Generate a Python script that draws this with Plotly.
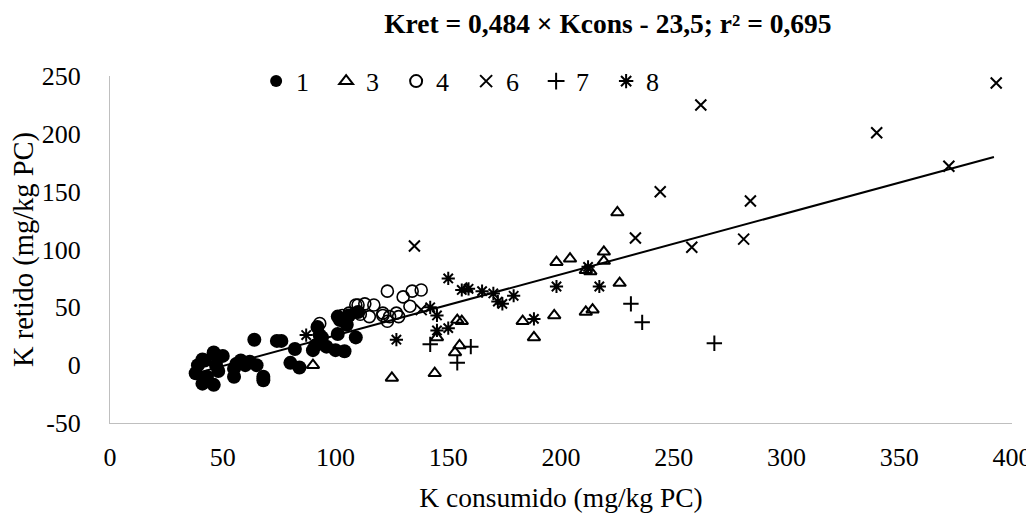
import plotly.graph_objects as go

# ---- data ----
s1_x = [39, 38, 41, 46, 47, 41, 46, 43, 56, 55, 60, 64, 74, 76, 46, 42, 58, 55, 65, 68, 68,
        82, 80, 84, 90, 92, 93, 92, 96, 100, 104, 101, 102, 101, 109, 105, 110, 106, 94, 91, 50, 62, 48]
s1_y = [0, -7, 5, 10, 0, -16, -17, -10, 1, -10, 0, 22, 21, 21, 11, 4, 4, -3, 0, -10, -13,
        14, 2, -2, 13, 18, 26, 33, 16, 13, 12, 27, 39, 42, 24, 35, 46, 43, 24, 17, 8, 3, -5]

s3_x = [225, 198, 204, 219, 219, 211, 213, 226, 211, 214, 197, 183, 188, 154, 156, 145, 155, 153, 144, 125, 90, 158]
s3_y = [132, 89, 92, 98, 90, 82, 81, 71, 46, 48, 43, 38, 24, 39, 38, 24, 17, 11, -7, -11, 0, 66]

s4_x = [123, 130, 134, 138, 133, 121, 123, 128, 110, 113, 117, 121, 124, 127, 103, 106, 93, 111, 115, 109]
s4_y = [64, 59, 64, 65, 51, 43, 38, 42, 52, 53, 52, 45, 42, 45, 43, 45, 36, 44, 42, 52]

s6_x = [393, 262, 340, 372, 244, 284, 233, 258, 281, 135, 138]
s6_y = [244, 225, 201, 172, 150, 142, 110, 102, 109, 103, 48]

s7_x = [231, 236, 268, 142, 160, 154]
s7_y = [53, 37, 19, 18, 16, 2]

s8_x = [150, 156, 159, 165, 170, 172, 174, 179, 198, 212, 217, 188, 142, 145, 145, 150, 127, 87]
s8_y = [75, 65, 66, 64, 62, 55, 53, 60, 68, 85, 68, 40, 50, 43, 30, 32, 22, 26]

trend_x = [40, 392]
trend_y = [-6, 180]

series_names = ["1", "3", "4", "6", "7", "8"]
x_ticks = [0, 50, 100, 150, 200, 250, 300, 350, 400]
y_ticks = [-50, 0, 50, 100, 150, 200, 250]
title_text = "Kret = 0,484 × Kcons - 23,5; r² = 0,695"
x_title = "K consumido (mg/kg PC)"
y_title = "K retido (mg/kg PC)"

FONT = "Liberation Serif, Times New Roman, serif"

# the page body adds an 8 px margin, so the figure is 8 px smaller than the window
W, H = 1026, 505

fig = go.Figure()

fig.add_trace(go.Scatter(x=trend_x, y=trend_y, mode="lines", showlegend=False,
                         line=dict(color="black", width=2), hoverinfo="skip"))

styles = [
    (s1_x, s1_y, "circle", 14, 0),
    (s3_x, s3_y, "triangle-up-open", 11, 2),
    (s4_x, s4_y, "circle-open", 12, 1.6),
    (s6_x, s6_y, "x-thin-open", 11, 2),
    (s7_x, s7_y, "cross-thin-open", 11, 2),
    (s8_x, s8_y, "asterisk-open", 11, 2),
]
for name, (xs, ys, sym, sz, lw) in zip(series_names, styles):
    fig.add_trace(go.Scatter(
        x=xs, y=ys, mode="markers", name=name,
        marker=dict(symbol=sym, size=sz, color="black",
                    line=dict(color="black", width=lw)),
    ))

fig.update_layout(
    width=W, height=H,
    paper_bgcolor="white", plot_bgcolor="white",
    margin=dict(l=102, r=22, t=68, b=90),
    font=dict(family=FONT, size=26, color="black"),
    title=dict(text="<b>" + title_text + "</b>", x=0.552, xref="paper", xanchor="center",
               y=1 - 15 / H, yanchor="middle",
               font=dict(family=FONT, size=27.5, color="black")),
    legend=dict(orientation="h", x=0.162, xanchor="left", y=0.985, yanchor="middle",
                bgcolor="rgba(0,0,0,0)", font=dict(family=FONT, size=26),
                itemsizing="constant", entrywidth=25, entrywidthmode="pixels",
                tracegroupgap=0),
    showlegend=True,
)

fig.update_xaxes(range=[0, 400], tickvals=x_ticks, ticktext=[str(v) for v in x_ticks],
                 showgrid=False, zeroline=False, automargin=False,
                 showline=True, linecolor="#bfbfbf", linewidth=1, ticks="",
                 ticklabelstandoff=11,
                 tickfont=dict(family=FONT, size=26),
                 title=dict(text=x_title, font=dict(family=FONT, size=27.5), standoff=17))
fig.update_yaxes(range=[-50, 250], tickvals=y_ticks, ticktext=[str(v) for v in y_ticks],
                 showgrid=False, zeroline=False, automargin=False,
                 showline=True, linecolor="#bfbfbf", linewidth=1, ticks="",
                 ticklabelstandoff=23,
                 tickfont=dict(family=FONT, size=26),
                 title=dict(text=y_title, font=dict(family=FONT, size=28.5), standoff=0))

fig.write_html("out.html")
